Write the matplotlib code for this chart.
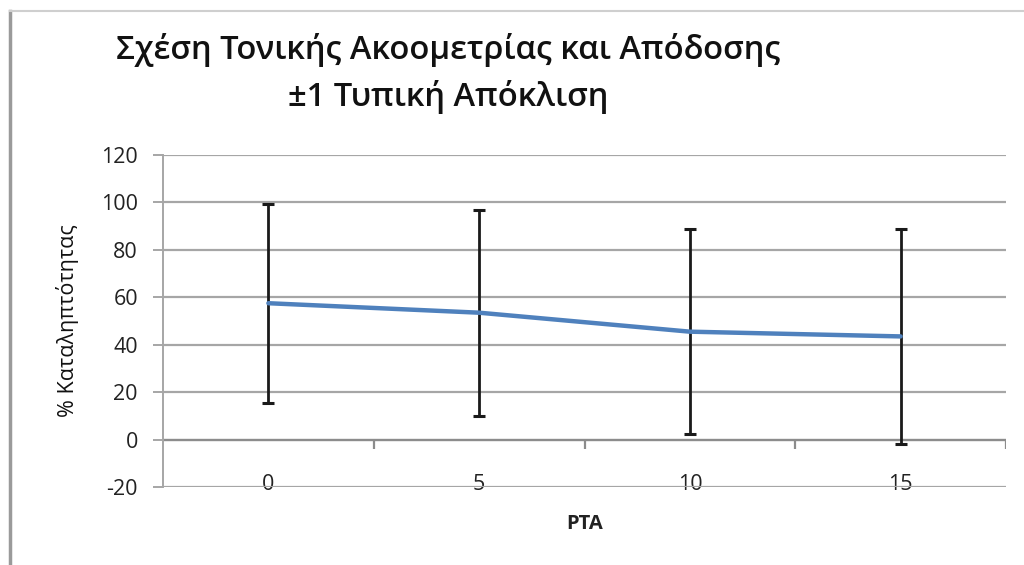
"""Tonal audiometry vs performance, mean line with +/-1 SD error bars."""

import matplotlib
matplotlib.use("Agg")
import matplotlib.pyplot as plt
from matplotlib.lines import Line2D
import numpy as np

# data
categories = ["0", "5", "10", "15"]
means = [57.5, 53.5, 45.5, 43.5]
sds = [42.0, 43.5, 43.3, 45.5]
y_ticks = [-20, 0, 20, 40, 60, 80, 100, 120]

title = "Σχέση Τονικής Ακοομετρίας και Απόδοσης\n±1 Τυπική Απόκλιση"
x_label = "PTA"
y_label = "% Καταληπτότητας"

plt.rcParams["font.family"] = ["Open Sans", "DejaVu Sans"]
plt.rcParams["axes.unicode_minus"] = False

fig = plt.figure(figsize=(10.24, 5.65), dpi=100)
ax = fig.add_axes([163 / 1024, 1 - 487 / 565, (1006 - 163) / 1024, (487 - 155) / 565])

x = np.arange(len(categories))
grid_col = "#a6a6a6"

ax.set_ylim(-20, 120)
ax.set_xlim(-0.5, len(categories) - 0.5)
ax.set_yticks(y_ticks)
ax.yaxis.grid(True, color=grid_col, linewidth=1.6, zorder=0)
ax.set_axisbelow(True)

for side in ("top", "right", "bottom"):
    ax.spines[side].set_visible(False)
ax.spines["left"].set_color(grid_col)
ax.spines["left"].set_linewidth(1.4)

ax.tick_params(axis="y", direction="out", length=7, width=1.4, color=grid_col,
               labelsize=15.5, labelcolor="#222222", pad=11)
ax.set_xticks(x)
ax.set_xticklabels(categories)
ax.tick_params(axis="x", length=0, labelsize=15.5, labelcolor="#222222", pad=-2)
for lbl in ax.get_xticklabels():
    lbl.set_verticalalignment("center")

# category axis crosses at 0, tick marks between categories
ax.axhline(0, color="#8c8c8c", linewidth=1.6, zorder=1)
bounds = np.arange(len(categories)) + 0.5
ax.vlines(bounds, -4, 0, color="#8c8c8c", linewidth=1.6, zorder=1)

ax.errorbar(x, means, yerr=sds, fmt="none", ecolor="#1a1a1a", elinewidth=2.0,
            capsize=4.3, capthick=2.2, zorder=3)
ax.plot(x, means, color="#4f81bd", linewidth=3.2, zorder=4, solid_capstyle="round")

ax.set_ylabel(y_label, fontsize=15.5, color="#111111")
ax.yaxis.set_label_coords(-0.100, 0.5)
fig.text(585 / 1024, 1 - 524 / 565, x_label, fontsize=14.5, fontweight="bold",
         ha="center", va="center", color="#222222")

fig.text(448 / 1024, 1 - 73 / 565, title, fontsize=23.5, ha="center", va="center",
         linespacing=1.5, color="#111111", fontweight="semibold")

# chart area border (left and top edges visible in the reference)
fig.add_artist(Line2D([10 / 1024, 10 / 1024], [0, 1 - 11 / 565], color="#9a9a9a",
                      linewidth=2.5, transform=fig.transFigure))
fig.add_artist(Line2D([10 / 1024, 1], [1 - 11 / 565, 1 - 11 / 565], color="#cfcfcf",
                      linewidth=1.5, transform=fig.transFigure))

fig.savefig("out.png", dpi=100)
